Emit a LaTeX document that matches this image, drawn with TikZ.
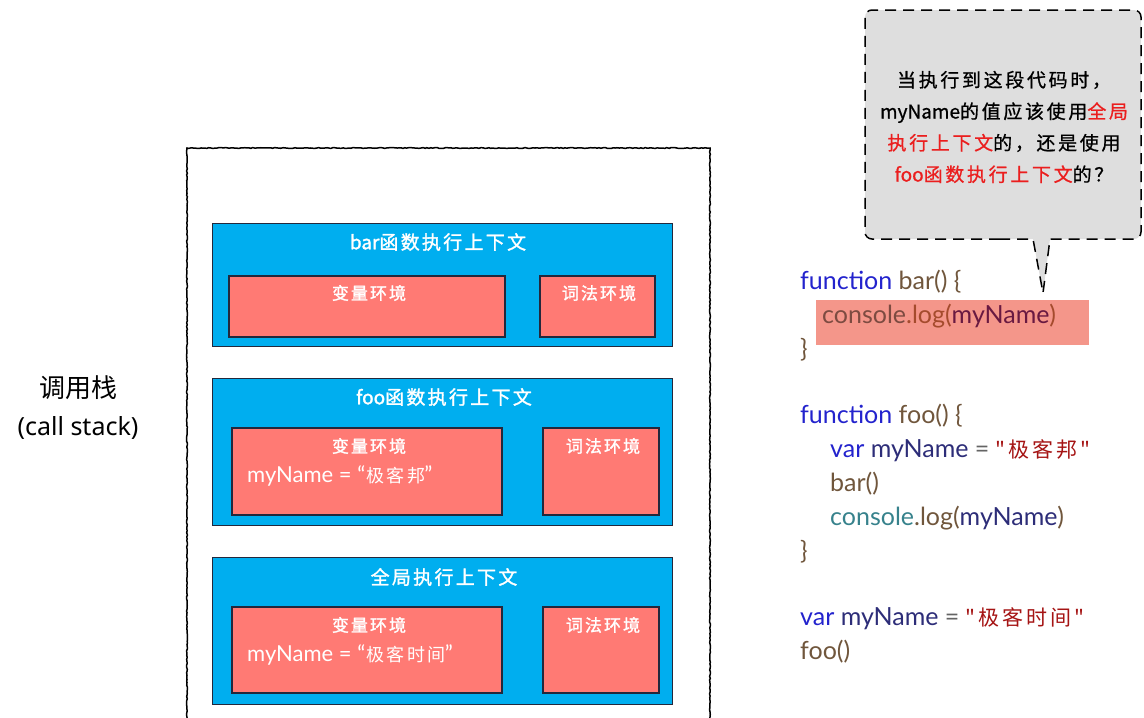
\documentclass[tikz,border=0pt]{standalone}
\usepackage{fontspec}
\setmainfont{Lato}
\newfontfamily\cjk{Noto Sans CJK SC}
\newfontfamily\cjkwide[LetterSpace=14]{Noto Sans CJK SC}
\newfontfamily\cjktitle[LetterSpace=12,FakeBold=1.5]{Noto Sans CJK SC}
\newfontfamily\latintitle[FakeBold=1.5]{Noto Sans CJK SC}
\newfontfamily\cjkbubble[LetterSpace=14,FakeBold=0.8]{Noto Sans CJK SC}
\newfontfamily\latinbubble[FakeBold=0.8]{Noto Sans CJK SC}
\newfontfamily\labelfont{Noto Sans}
\usetikzlibrary{decorations.pathmorphing}

\definecolor{ctxblue}{RGB}{0,174,239}
\definecolor{envpink}{RGB}{255,122,116}
\definecolor{boxline}{RGB}{35,40,60}
\definecolor{hlpink}{RGB}{244,150,138}
\definecolor{bubblegray}{RGB}{222,222,222}
\definecolor{warnred}{RGB}{235,30,30}
\definecolor{kwblue}{RGB}{35,35,205}
\definecolor{idnavy}{RGB}{45,45,120}
\definecolor{fnbrown}{RGB}{112,86,60}
\definecolor{strred}{RGB}{165,20,20}
\definecolor{opgray}{RGB}{100,100,100}
\definecolor{objteal}{RGB}{55,130,140}
\definecolor{hlobj}{RGB}{125,75,65}
\definecolor{hlfn}{RGB}{165,75,45}
\definecolor{hlid}{RGB}{105,25,65}

\begin{document}
\begin{tikzpicture}[x=1pt,y=-1pt,
  ctxbox/.style={draw=boxline, line width=1pt, fill=ctxblue, inner sep=0pt,
    minimum width=460pt},
  envbox/.style={draw=boxline, line width=1.2pt, fill=envpink, inner sep=0pt},
  ctxtitle/.style={text=white, inner sep=0pt, font=\cjktitle\fontsize{19}{22}\selectfont},
  envtitle/.style={text=white, inner sep=0pt, font=\cjktitle\fontsize{17}{20}\selectfont},
  envvalue/.style={text=white, inner sep=0pt, anchor=west, font=\fontsize{22}{26}\selectfont},
  codeline/.style={anchor=base west, inner sep=0pt, font=\fontsize{25}{30}\selectfont},
  sketchy/.style={line width=1.5pt, decorate,
    decoration={random steps, segment length=2pt, amplitude=0.45pt}},
  bubble/.style={fill=bubblegray, draw=black, line width=1.5pt,
    dash pattern=on 11pt off 7pt},
]
\useasboundingbox (0,0) rectangle (1144,718);

% call stack label
\node[font=\cjk\fontsize{26}{28}\selectfont] (stackcn) at (78,388) {调用栈};
\node[font=\labelfont\fontsize{25}{28}\selectfont] (stacken) at (78,428) {(call stack)};

% call stack container, open at the bottom
\draw[sketchy] (187,725) -- (187,148) -- (710,148) -- (710,725);

% bar execution context
\node[ctxbox, minimum height=123pt] (barctx) at (442,284.5) {};
\node[ctxtitle] (bartitle) at (438,242) {{\latintitle bar}函数执行上下文};
\node[envbox, minimum width=276pt, minimum height=61pt] (barvar) at (367,306.5) {};
\node[envtitle] at (369,293) {变量环境};
\node[envbox, minimum width=115pt, minimum height=61pt] (barlex) at (597.5,306.5) {};
\node[envtitle] at (599,293) {词法环境};

% foo execution context
\node[ctxbox, minimum height=147pt] (fooctx) at (442,451.5) {};
\node[ctxtitle] (footitle) at (444,397) {{\latintitle foo}函数执行上下文};
\node[envbox, minimum width=270pt, minimum height=87pt] (foovar) at (367,471.5) {};
\node[envtitle] at (369,446) {变量环境};
\node[envvalue] (fooval) at (247,476) {myName = “\hspace{1pt}{\cjkwide\fontsize{18}{22}\selectfont 极客邦}\hspace{-1pt}”};
\node[envbox, minimum width=116pt, minimum height=87pt] (foolex) at (601,471.5) {};
\node[envtitle] at (603,446) {词法环境};

% global execution context
\node[ctxbox, minimum height=147pt] (globctx) at (442,630.5) {};
\node[ctxtitle] (globtitle) at (444,577) {全局执行上下文};
\node[envbox, minimum width=270pt, minimum height=86pt] (globvar) at (367,650) {};
\node[envtitle] at (369,625) {变量环境};
\node[envvalue] (globval) at (247,655) {myName = “\hspace{1pt}{\cjkwide\fontsize{18}{22}\selectfont 极客时间}\hspace{-1pt}”};
\node[envbox, minimum width=116pt, minimum height=86pt] (globlex) at (601,650) {};
\node[envtitle] at (603,625) {词法环境};

% question bubble
\path[bubble] (1000,239) [rounded corners=7pt] -- (865,239) -- (865,10)
  -- (1141,10) -- (1141,239) -- (1100,239) [sharp corners] -- (1050,239)
  -- (1043,293) -- (1033,239) -- cycle;
\node[align=center, inner sep=0pt, font=\cjkbubble\fontsize{19}{31.5}\selectfont]
  (question) at (1004,127)
  {当执行到这段代码时，\\
   {\latinbubble myName}的值应该使用\textcolor{warnred}{全局}\\
   \textcolor{warnred}{执行上下文}的，还是使用\\
   \textcolor{warnred}{{\latinbubble foo}函数执行上下文}的？};

% source code
\node[fill=hlpink, inner sep=0pt, minimum width=273pt, minimum height=45pt]
  (hlbox) at (952.5,322.5) {};
\node[codeline] (c1) at (800,289)
  {\textcolor{kwblue}{function} \textcolor{fnbrown}{bar() \{}};
\node[codeline] (c2) at (822,323)
  {\textcolor{hlobj}{console}\textcolor{hlfn}{.log(}\textcolor{hlid}{myName}\textcolor{hlfn}{)}};
\node[codeline] (c3) at (800,357) {\textcolor{fnbrown}{\}}};

\node[codeline] (c4) at (800,423)
  {\textcolor{kwblue}{function} \textcolor{fnbrown}{foo() \{}};
\node[codeline] (c5) at (830,457)
  {\textcolor{kwblue}{var} \textcolor{idnavy}{myName} \textcolor{opgray}{=} \textcolor{strred}{\cjkwide\fontsize{21}{25}\selectfont "极客邦"}};
\node[codeline] (c6) at (830,491) {\textcolor{fnbrown}{bar()}};
\node[codeline] (c7) at (830,525)
  {\textcolor{objteal}{console}\textcolor{fnbrown}{.log(}\textcolor{idnavy}{myName}\textcolor{fnbrown}{)}};
\node[codeline] (c8) at (800,559) {\textcolor{fnbrown}{\}}};

\node[codeline] (c9) at (800,625)
  {\textcolor{kwblue}{var} \textcolor{idnavy}{myName} \textcolor{opgray}{=} \textcolor{strred}{\cjkwide\fontsize{21}{25}\selectfont "极客时间"}};
\node[codeline] (c10) at (800,659) {\textcolor{fnbrown}{foo()}};
\end{tikzpicture}
\end{document}
